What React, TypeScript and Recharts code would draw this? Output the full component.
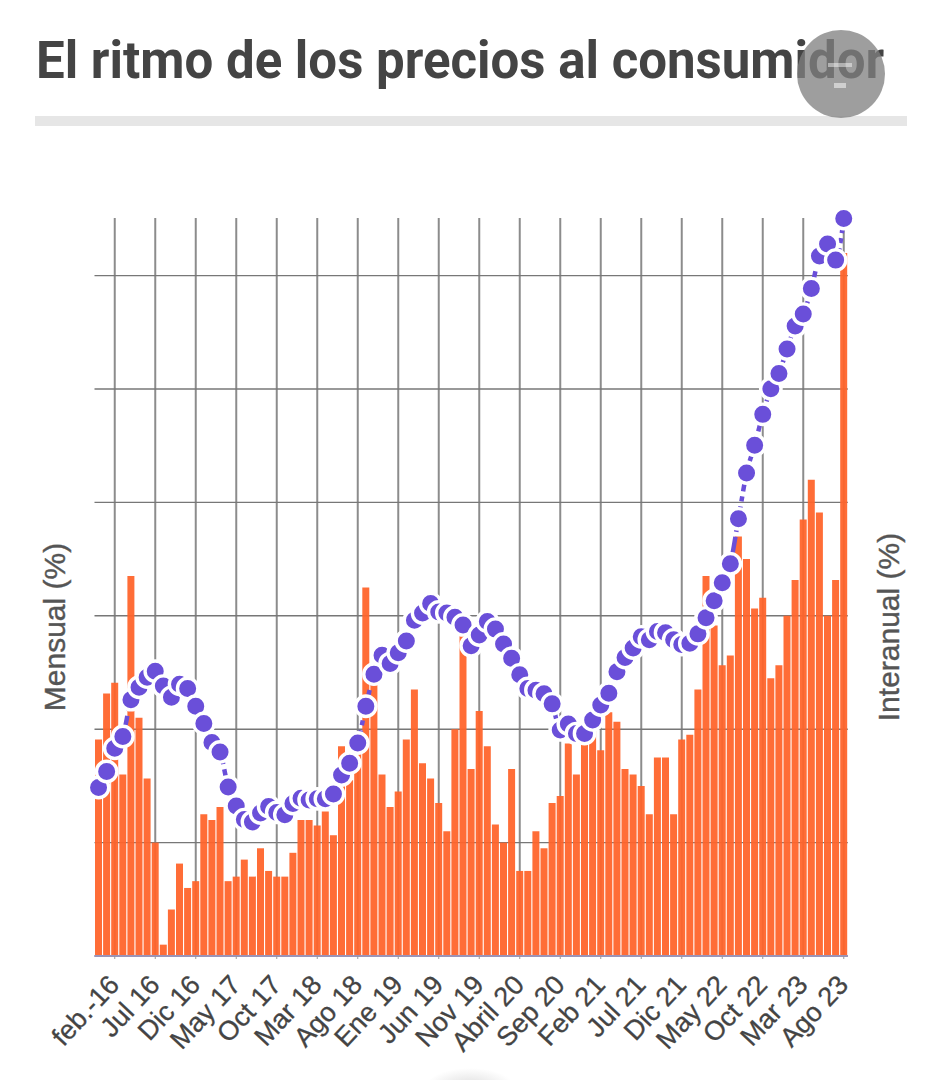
// App.tsx
import {
  ComposedChart,
  Bar,
  Line,
  CartesianGrid,
  XAxis,
  YAxis,
} from "recharts"

const meses = [
  "Dic 15", "Ene 16", "feb.-16", "Mar 16", "Abr 16", "May 16", "Jun 16", "Jul 16", "Ago 16", "Sep 16", "Oct 16", "Nov 16",
  "Dic 16", "Ene 17", "Feb 17", "Mar 17", "Abr 17", "May 17", "Jun 17", "Jul 17", "Ago 17", "Sep 17", "Oct 17", "Nov 17",
  "Dic 17", "Ene 18", "Feb 18", "Mar 18", "Abr 18", "May 18", "Jun 18", "Jul 18", "Ago 18", "Sep 18", "Oct 18", "Nov 18",
  "Dic 18", "Ene 19", "Feb 19", "Mar 19", "Abr 19", "May 19", "Jun 19", "Jul 19", "Ago 19", "Sep 19", "Oct 19", "Nov 19",
  "Dic 19", "Ene 20", "Feb 20", "Mar 20", "Abril 20", "May 20", "Jun 20", "Jul 20", "Ago 20", "Sep 20", "Oct 20", "Nov 20",
  "Dic 20", "Ene 21", "Feb 21", "Mar 21", "Abr 21", "May 21", "Jun 21", "Jul 21", "Ago 21", "Sep 21", "Oct 21", "Nov 21",
  "Dic 21", "Ene 22", "Feb 22", "Mar 22", "Abr 22", "May 22", "Jun 22", "Jul 22", "Ago 22", "Sep 22", "Oct 22", "Nov 22",
  "Dic 22", "Ene 23", "Feb 23", "Mar 23", "Abr 23", "May 23", "Jun 23", "Jul 23", "Ago 23",
]

const etiquetas = [
  "feb.-16", "Jul 16", "Dic 16", "May 17", "Oct 17", "Mar 18", "Ago 18", "Ene 19", "Jun 19", "Nov 19",
  "Abril 20", "Sep 20", "Feb 21", "Jul 21", "Dic 21", "May 22", "Oct 22", "Mar 23", "Ago 23",
]

// barras: variación mensual
const mensual = [
  3.82, 4.63, 4.82, 3.2, 6.7, 4.2, 3.13, 2.0, 0.2, 0.82, 1.63, 1.2,
  1.32, 2.5, 2.4, 2.63, 1.32, 1.4, 1.7, 1.4, 1.9, 1.5, 1.4, 1.4,
  1.82, 2.4, 2.4, 2.3, 2.55, 2.13, 3.7, 3.1, 3.9, 6.5, 4.9, 3.2,
  2.63, 2.9, 3.82, 4.7, 3.4, 3.13, 2.7, 2.2, 4.0, 5.9, 3.3, 4.32,
  3.7, 2.32, 2.0, 3.3, 1.5, 1.5, 2.2, 1.9, 2.7, 2.82, 3.75, 3.2,
  4.0, 4.0, 3.63, 4.3, 4.13, 3.3, 3.2, 3.0, 2.5, 3.5, 3.5, 2.5,
  3.82, 3.9, 4.7, 6.7, 5.83, 5.13, 5.3, 7.4, 7.0, 6.13, 6.32, 4.9,
  5.13, 6.0, 6.63, 7.7, 8.4, 7.82, 6.0, 6.63, 12.4,
]

// línea: variación interanual
const interanual = [
  28.4, 31.1, 35, 37, 43.2, 45.3, 47, 48, 45.5, 43.6, 45.8, 45.1,
  42.1, 39.2, 36, 34.4, 28.5, 25.3, 23, 22.6, 24.1, 25.2, 24.2, 23.8,
  25.7, 26.6, 26.3, 26.5, 26.5, 27.3, 30.5, 32.5, 35.9, 42.1, 47.5, 50.7,
  49.3, 51.1, 53.1, 56.6, 57.8, 59.4, 58, 57.8, 57.1, 55.8, 52.3, 54.1,
  56.4, 55.1, 52.6, 50.2, 47.4, 45.1, 44.8, 44.2, 42.5, 38.1, 39.1, 37.5,
  37.5, 39.8, 42.3, 44.3, 47.9, 50.3, 51.9, 53.8, 53.3, 54.7, 54.5, 53.3,
  52.5, 52.7, 54.3, 57, 59.9, 62.9, 66.1, 73.7, 81.4, 86.1, 91.3, 95.6,
  98.2, 102.3, 106.2, 108.2, 112.5, 118, 120, 117.3, 124.3,
]

const ticksMensual = [0, 2, 4, 6, 8, 10, 12]

const data = meses.map((mes, i) => ({
  mes,
  mensual: mensual[i],
  interanual: interanual[i],
}))

const gris = "#444"
const violeta = "#6a4fd9"
const naranja = "#ff642b"
const fuente = "'Liberation Sans', Arial, sans-serif"

function TickMes({ x, y, payload }: any) {
  return (
    <text
      x={x + 6}
      y={y + 25}
      transform={`rotate(-47 ${x + 6} ${y + 25})`}
      textAnchor="end"
      fontFamily={fuente}
      fontSize={27}
      fill={gris}
      stroke={gris}
      strokeWidth={0.3}
    >
      {payload.value}
    </text>
  )
}

function TituloEje({ x, value }: { x: number; value: string }) {
  return (
    <text
      x={x}
      y={627}
      transform={`rotate(-90 ${x} 627)`}
      textAnchor="middle"
      fontFamily={fuente}
      fontSize={30}
      fill="#555"
      stroke="#555"
      strokeWidth={0.4}
    >
      {value}
    </text>
  )
}

export default function App() {
  return (
    <div style={{ position: "absolute", left: 0, top: 0, width: 941, height: 1080, overflow: "hidden", background: "#fff" }}>
      <div
        style={{
          position: "absolute",
          left: 36,
          top: 31,
          fontFamily: "Roboto, 'Liberation Sans', sans-serif",
          fontWeight: 700,
          fontSize: 51,
          color: gris,
          whiteSpace: "nowrap",
        }}
      >
        El ritmo de los precios al consumidor
      </div>
      <div style={{ position: "absolute", left: 35, top: 116, width: 872, height: 10, background: "#e6e6e6" }} />

      <ComposedChart
        width={941}
        height={1080}
        data={data}
        margin={{ top: 218, right: 0, bottom: 0, left: 0 }}
        barCategoryGap={0.5}
      >
        <CartesianGrid yAxisId="izq" horizontal={false} syncWithTicks stroke="#8c8c8c" strokeWidth={2} />
        <CartesianGrid yAxisId="izq" vertical={false} horizontalValues={ticksMensual} syncWithTicks stroke="#777" strokeWidth={1.4} />
        <XAxis
          dataKey="mes"
          ticks={etiquetas}
          interval={0}
          height={124}
          tick={<TickMes />}
          tickLine={{ stroke: "#999" }}
          tickSize={3}
          axisLine={{ stroke: "#9a94b8", strokeWidth: 2 }}
        />
        <YAxis
          yAxisId="izq"
          width={94.5}
          domain={[0, 13.016]}
          ticks={ticksMensual}
          tick={() => <g />}
          tickLine={false}
          axisLine={false}
          label={{ content: () => <TituloEje x={65} value="Mensual (%)" /> }}
        />
        <YAxis
          yAxisId="der"
          orientation="right"
          width={93.2}
          domain={[0, 124.4]}
          tick={false}
          tickLine={false}
          axisLine={false}
          label={{ content: () => <TituloEje x={899} value="Interanual (%)" /> }}
        />
        <Bar yAxisId="izq" dataKey="mensual" fill={naranja} fillOpacity={0.94} isAnimationActive={false} />
        <Line
          yAxisId="der"
          type="monotone"
          dataKey="interanual"
          stroke={violeta}
          strokeWidth={4.5}
          strokeDasharray="16 5 5 5"
          dot={{ r: 10.2, fill: violeta, stroke: "#fff", strokeWidth: 3.4, fillOpacity: 1, strokeDasharray: "none" }}
          isAnimationActive={false}
        />
      </ComposedChart>

      {/* botón flotante sobre el título */}
      <div style={{ position: "absolute", left: 797, top: 30, width: 88, height: 88, borderRadius: "50%", background: "rgba(128,128,128,0.76)" }}>
        <div style={{ position: "absolute", left: 31, top: 33, width: 24, height: 4, background: "rgba(255,255,255,0.45)" }} />
        <div style={{ position: "absolute", left: 37, top: 53, width: 12, height: 5, background: "rgba(255,255,255,0.5)" }} />
      </div>
      <div
        style={{
          position: "absolute",
          left: 425,
          top: 1068,
          width: 90,
          height: 40,
          borderRadius: "50%",
          background: "radial-gradient(closest-side, #dcdcdc, rgba(255,255,255,0))",
        }}
      />
    </div>
  )
}
